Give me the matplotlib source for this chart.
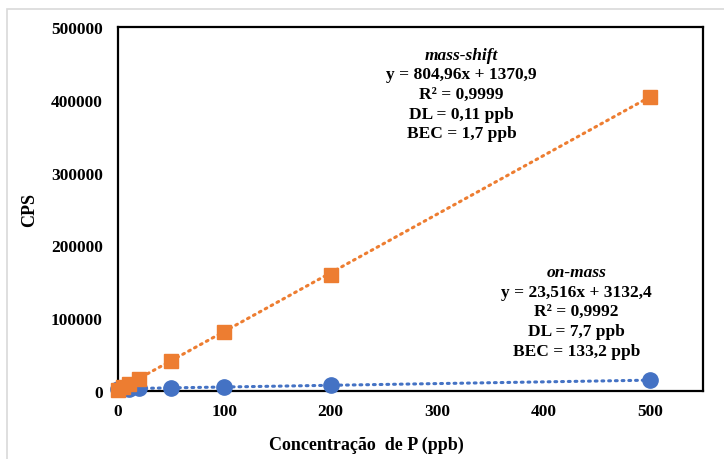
import matplotlib
matplotlib.use("Agg")
import matplotlib.pyplot as plt
from matplotlib.patches import Rectangle

# calibration data (ppb vs CPS)
conc = [0, 5, 10, 20, 50, 100, 200, 500]
cps_mass_shift = [1400, 5400, 9400, 16500, 41600, 80500, 160000, 403500]
cps_on_mass = [3100, 3250, 3400, 3600, 4300, 5500, 7800, 14800]

fit_mass_shift = (804.96, 1370.9)
fit_on_mass = (23.516, 3132.4)

label_mass_shift = ["mass-shift", "y = 804,96x + 1370,9", "R\u00b2 = 0,9999",
                    "DL = 0,11 ppb", "BEC = 1,7 ppb"]
label_on_mass = ["on-mass", "y = 23,516x + 3132,4", "R\u00b2 = 0,9992",
                 "DL = 7,7 ppb", "BEC = 133,2 ppb"]

ORANGE = "#ED7D31"
BLUE = "#4472C4"

plt.rcParams["font.family"] = "Liberation Serif"
plt.rcParams["font.weight"] = "bold"

fig = plt.figure(figsize=(7.24, 4.60), dpi=100)
fig.patches.append(Rectangle((7 / 724, -0.1), 1.1, 1 - 10 / 460 + 0.1,
                             transform=fig.transFigure, fill=False,
                             edgecolor="#d9d9d9", linewidth=1.2))
ax = fig.add_axes([118 / 724, 68 / 460, 585 / 724, 364 / 460])


def trend(fit, xs):
    return [fit[0] * x + fit[1] for x in xs]


xr = [conc[0], conc[-1]]
ax.plot(xr, trend(fit_on_mass, xr), color=BLUE, lw=2.2,
        linestyle=(0, (0.6, 1.6)), dash_capstyle="round", zorder=2)
ax.plot(xr, trend(fit_mass_shift, xr), color=ORANGE, lw=2.2,
        linestyle=(0, (0.6, 1.6)), dash_capstyle="round", zorder=2)
ax.plot(conc, cps_on_mass, "o", color=BLUE, ms=11, mec=BLUE, zorder=3,
        clip_on=False)
ax.plot(conc, cps_mass_shift, "s", color=ORANGE, ms=10, mec=ORANGE, zorder=4,
        clip_on=False)

ax.set_xlim(0, 550)
ax.set_ylim(0, 500000)
ax.set_xticks([0, 100, 200, 300, 400, 500])
ax.set_yticks(range(0, 500001, 100000))
ax.tick_params(length=0, labelsize=12.5)
ax.tick_params(axis="y", pad=11)
ax.tick_params(axis="x", pad=9)
for s in ax.spines.values():
    s.set_linewidth(1.6)
    s.set_color("black")
    s.set_zorder(2.5)

ax.set_xlabel("Concentra\u00e7\u00e3o  de P (ppb)", fontsize=13, fontweight="bold")
ax.xaxis.set_label_coords(0.424, -0.124)
ax.set_ylabel("CPS", fontsize=13, fontweight="bold")
ax.yaxis.set_label_coords(-0.137, 0.5)

# annotation blocks: first line italic
y0, step = 462000, 27000
for i, line in enumerate(label_mass_shift):
    ax.text(323, y0 - i * step, line, ha="center", va="center", fontsize=12.5,
            fontweight="bold", style="italic" if i == 0 else "normal")
y0 = 163500
for i, line in enumerate(label_on_mass):
    ax.text(431, y0 - i * step, line, ha="center", va="center", fontsize=12.5,
            fontweight="bold", style="italic" if i == 0 else "normal")

fig.savefig("out.png", dpi=100)
